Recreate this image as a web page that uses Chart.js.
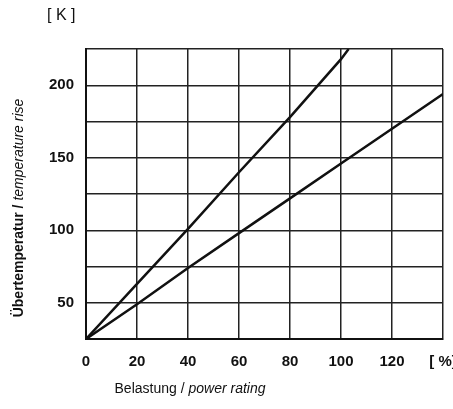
<html>
  <head>
    <title>Temperature rise vs power rating</title>
    <script src="https://cdn.jsdelivr.net/npm/chart.js"></script>
    <style>
      body { margin: 0; background: #fff; }
      #wrap { width: 453px; height: 409px; }
    </style>
  </head>
  <body>
    <div id="wrap">
      <canvas id="riseChart"></canvas>
    </div>

    <script>
      // values
      const loadSteep = [0, 20, 40, 60, 80, 100, 103];
      const riseSteep = [25, 63, 101, 140, 178, 218, 225];
      const loadFlat = [0, 20, 40, 60, 80, 100, 120, 140];
      const riseFlat = [25, 49, 74, 98, 122, 146, 170, 194];
      const yLabels = [50, 100, 150, 200];

      const FONT = "'Liberation Sans', Arial, sans-serif";

      function toPoints(xs, ys) {
        return xs.map((x, i) => ({ x: x, y: ys[i] }));
      }

      // draws the axis titles with the english part in italics
      const titles = {
        id: 'titles',
        afterDraw(chart) {
          const c = chart.ctx;
          c.save();
          c.fillStyle = '#111';
          c.textBaseline = 'middle';

          c.font = '16px ' + FONT;
          c.textAlign = 'left';
          c.fillText('[ K ]', 47, 16);

          // x title
          const a = 'Belastung / ';
          const b = 'power rating';
          c.font = '14px ' + FONT;
          const wa = c.measureText(a).width;
          c.font = 'italic 14px ' + FONT;
          const wb = c.measureText(b).width;
          let x0 = 190 - (wa + wb) / 2;
          c.font = '14px ' + FONT;
          c.fillText(a, x0, 389);
          c.font = 'italic 14px ' + FONT;
          c.fillText(b, x0 + wa, 389);

          // y title
          const p = 'Übertemperatur / ';
          const q = 'temperature rise';
          c.translate(19, 208);
          c.rotate(-Math.PI / 2);
          c.font = 'bold 14px ' + FONT;
          const wp = c.measureText(p).width;
          c.font = 'italic 14px ' + FONT;
          const wq = c.measureText(q).width;
          x0 = -(wp + wq) / 2;
          c.font = 'bold 14px ' + FONT;
          c.fillText(p, x0, 0);
          c.font = 'italic 14px ' + FONT;
          c.fillText(q, x0 + wp, 0);
          c.restore();
        }
      };

      new Chart(document.getElementById('riseChart'), {
        type: 'line',
        data: {
          datasets: [{
            data: toPoints(loadSteep, riseSteep),
            borderColor: '#111',
            borderWidth: 2.5,
            pointRadius: 0,
            tension: 0
          }, {
            data: toPoints(loadFlat, riseFlat),
            borderColor: '#111',
            borderWidth: 2.5,
            pointRadius: 0,
            tension: 0
          }]
        },
        options: {
          responsive: true,
          maintainAspectRatio: false,
          animation: false,
          layout: { padding: { top: 49, right: 10, left: 0, bottom: 0 } },
          plugins: {
            legend: { display: false },
            tooltip: { enabled: false }
          },
          scales: {
            x: {
              type: 'linear',
              min: 0,
              max: 140,
              afterFit: (s) => { s.height = 70; s.paddingRight = 0; s.paddingLeft = 0; },
              border: { color: '#111', width: 2 },
              grid: { color: '#222', lineWidth: 1.5, drawTicks: false },
              ticks: {
                stepSize: 20,
                padding: 14,
                color: '#111',
                font: { family: FONT, size: 15, weight: 'bold' },
                callback: (v) => v === 140 ? '[ %]' : v
              }
            },
            y: {
              min: 25,
              max: 225,
              afterFit: (s) => { s.width = 86; },
              border: { color: '#111', width: 2 },
              grid: { color: '#222', lineWidth: 1.5, drawTicks: false },
              ticks: {
                stepSize: 25,
                padding: 12,
                color: '#111',
                font: { family: FONT, size: 15, weight: 'bold' },
                callback: (v) => yLabels.includes(v) ? v : ''
              }
            }
          }
        },
        plugins: [titles]
      });
    </script>
  </body>
</html>
